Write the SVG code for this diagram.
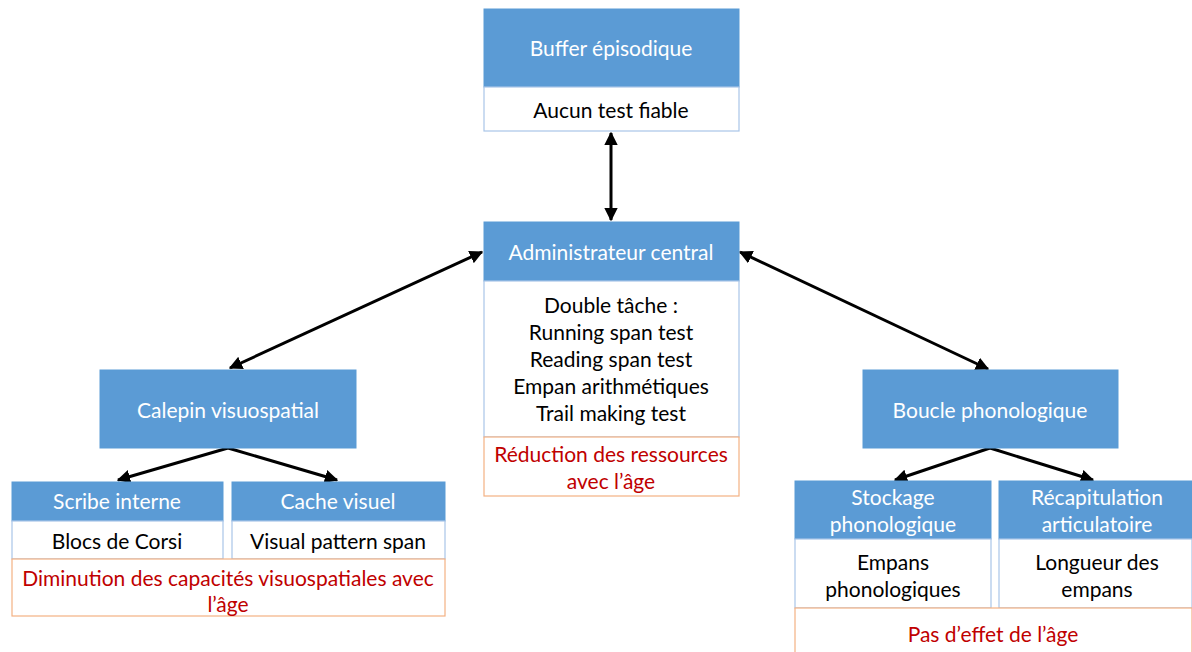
<svg xmlns="http://www.w3.org/2000/svg" width="1192" height="652" viewBox="0 0 1192 652">
<style>
.hd{fill:#5B9BD5;stroke:#5B9BD5;stroke-width:1}
.bd{fill:#ffffff;stroke:#A9C5E8;stroke-width:1.2}
.ag{fill:#ffffff;stroke:#F4B183;stroke-width:1.2}
text{font-family:Lato,"Open Sans","Liberation Sans",sans-serif;font-size:21px;text-anchor:middle;dominant-baseline:central}
.w{fill:#ffffff}
.k{fill:#000000}
.r{fill:#C00000}
.c line{stroke:#000;stroke-width:3}
</style>
<defs>
<marker id="ah" viewBox="0 0 10 10" refX="9" refY="5" markerWidth="4.5" markerHeight="4.5" orient="auto-start-reverse" markerUnits="strokeWidth">
<path d="M0,0 L10,5 L0,10 z" fill="#000"/>
</marker>
</defs>
<g id="connectors" class="c">
<line x1="611" y1="133" x2="611" y2="220" marker-start="url(#ah)" marker-end="url(#ah)"/>
<line x1="482" y1="252" x2="230" y2="368" marker-start="url(#ah)" marker-end="url(#ah)"/>
<line x1="740" y1="252" x2="988" y2="369" marker-start="url(#ah)" marker-end="url(#ah)"/>
<line x1="228" y1="448" x2="118" y2="480" marker-end="url(#ah)"/>
<line x1="228" y1="448" x2="337" y2="480" marker-end="url(#ah)"/>
<line x1="990" y1="448" x2="895" y2="480" marker-end="url(#ah)"/>
<line x1="990" y1="448" x2="1093" y2="480" marker-end="url(#ah)"/>
</g>
<g id="buffer">
<rect class="hd" x="484" y="9" width="255" height="78"/>
<rect class="bd" x="484" y="87" width="255" height="44"/>
<text class="w" x="611" y="47">Buffer épisodique</text>
<text class="k" x="611" y="109">Aucun test fiable</text>
</g>
<g id="admin">
<rect class="hd" x="484" y="222" width="255" height="59"/>
<rect class="bd" x="484" y="281" width="255" height="156"/>
<rect class="ag" x="484" y="437" width="255" height="59"/>
<text class="w" x="611" y="251">Administrateur central</text>
<text class="k" x="611" y="304">Double tâche :</text>
<text class="k" x="611" y="331">Running span test</text>
<text class="k" x="611" y="358">Reading span test</text>
<text class="k" x="611" y="385">Empan arithmétiques</text>
<text class="k" x="611" y="412">Trail making test</text>
<text class="r" x="611" y="453">Réduction des ressources</text>
<text class="r" x="611" y="480">avec l’âge</text>
</g>
<g id="calepin">
<rect class="hd" x="100" y="370" width="256" height="78"/>
<text class="w" x="228" y="409">Calepin visuospatial</text>
</g>
<g id="scribe">
<rect class="hd" x="12" y="482" width="211" height="39"/>
<rect class="bd" x="12" y="521" width="211" height="38"/>
<text class="w" x="117" y="500">Scribe interne</text>
<text class="k" x="117" y="540">Blocs de Corsi</text>
</g>
<g id="cache">
<rect class="hd" x="232" y="482" width="213" height="39"/>
<rect class="bd" x="232" y="521" width="213" height="38"/>
<text class="w" x="338" y="500">Cache visuel</text>
<text class="k" x="338" y="540">Visual pattern span</text>
</g>
<g id="visuo-age">
<rect class="ag" x="12" y="559" width="433" height="57"/>
<text class="r" x="228" y="577">Diminution des capacités visuospatiales avec</text>
<text class="r" x="228" y="603">l’âge</text>
</g>
<g id="boucle">
<rect class="hd" x="863" y="370" width="255" height="78"/>
<text class="w" x="990" y="409">Boucle phonologique</text>
</g>
<g id="stockage">
<rect class="hd" x="795" y="481" width="196" height="58"/>
<rect class="bd" x="795" y="539" width="196" height="69"/>
<text class="w" x="893" y="496">Stockage</text>
<text class="w" x="893" y="523">phonologique</text>
<text class="k" x="893" y="561">Empans</text>
<text class="k" x="893" y="588">phonologiques</text>
</g>
<g id="recap">
<rect class="hd" x="999" y="481" width="193" height="58"/>
<rect class="bd" x="999" y="539" width="193" height="69"/>
<text class="w" x="1097" y="496">Récapitulation</text>
<text class="w" x="1097" y="523">articulatoire</text>
<text class="k" x="1097" y="561">Longueur des</text>
<text class="k" x="1097" y="588">empans</text>
</g>
<g id="phono-age">
<rect class="ag" x="795" y="608" width="397" height="60"/>
<text class="r" x="993" y="633">Pas d’effet de l’âge</text>
</g>
</svg>
